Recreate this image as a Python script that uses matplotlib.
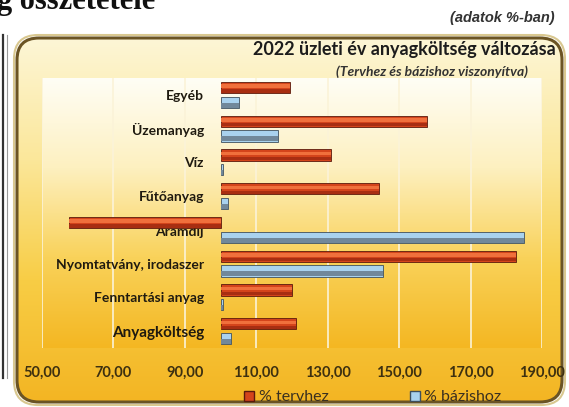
import matplotlib.pyplot as plt
import numpy as np
from matplotlib.patches import FancyBboxPatch
from matplotlib.lines import Line2D
from matplotlib.colors import LinearSegmentedColormap

# data (top to bottom as in the picture)
kategoriak = ["Egyéb", "Üzemanyag", "Víz", "Fűtőanyag", "Áramdíj",
              "Nyomtatvány, irodaszer", "Fenntartási anyag", "Anyagköltség"]
tervhez = [119.5, 157.8, 131.0, 144.4, 57.6, 182.7, 120.0, 121.0]
bazishoz = [105.2, 116.1, 100.6, 102.0, 185.0, 145.5, 100.8, 103.0]
xticks = [50, 70, 90, 110, 130, 150, 170, 190]
alap = 100

W, H = 569, 407
fig = plt.figure(figsize=(W / 100, H / 100), dpi=100)
fig.patch.set_facecolor("white")

# background axes for the rounded frame
bg = fig.add_axes([0, 0, 1, 1])
bg.set_xlim(0, W)
bg.set_ylim(0, H)
bg.axis("off")

frame = FancyBboxPatch((17, 5), 545, 364, boxstyle="round,pad=0,rounding_size=22",
                       fc="none", ec="#6b5424", lw=2.2, zorder=3)
outer = FancyBboxPatch((14, 2), 551, 370, boxstyle="round,pad=0,rounding_size=24",
                       fc="none", ec="#d9c890", lw=1.5, zorder=2)
bg.add_patch(outer)
bg.add_patch(frame)
cm_bg = LinearSegmentedColormap.from_list("bg", ["#f3b523", "#f8cd45", "#fbe79a", "#fdf6d6"])
grad = np.linspace(0, 1, 256).reshape(-1, 1)
im = bg.imshow(grad, extent=[17, 562, 5, 369], origin="lower", cmap=cm_bg,
               aspect="auto", zorder=1)
im.set_clip_path(frame)

# left table edge
bg.add_line(Line2D([3, 3], [29, 372], color="#333333", lw=1.6))
bg.add_line(Line2D([7, 7], [29, 372], color="#9a9a9a", lw=0.8))

# plot axes
ax = fig.add_axes([42 / W, 1 - 348 / H, 500 / W, 270 / H])
ax.set_facecolor("none")
cm_pa = LinearSegmentedColormap.from_list("pa", ["#f4b722", "#f9d25a", "#fdf0c0", "#fffef6"])
ax.imshow(grad, extent=[0, 1, 0, 1], origin="lower", cmap=cm_pa, aspect="auto",
          transform=ax.transAxes, zorder=0)

n = len(kategoriak)
y = np.arange(n)[::-1]
h = 0.33
off = 0.22
red_w = [v - alap for v in tervhez]
blue_w = [v - alap for v in bazishoz]

ax.barh(y + off, red_w, left=alap, height=h, color="#d4441b", ec="#5a1a0c", lw=0.6, zorder=3)
ax.barh(y + off + h * 0.12, red_w, left=alap, height=h * 0.3, color="#f0703c", lw=0, zorder=4)
ax.barh(y + off - h * 0.32, red_w, left=alap, height=h * 0.3, color="#a82e12", lw=0, zorder=4)
ax.barh(y - off, blue_w, left=alap, height=h, color="#a9d2ee", ec="#3e4f5c", lw=0.6, zorder=3)
ax.barh(y - off - h * 0.25, blue_w, left=alap, height=h * 0.45, color="#71889a", lw=0, zorder=4)

ax.set_xlim(50, 190)
ax.set_ylim(-0.5, n - 0.5)
ax.set_xticks(xticks)
ax.set_xticklabels([f"{t:.2f}".replace(".", ",") for t in xticks],
                   fontfamily="Lato", fontweight="bold", fontsize=10.5, color="#3d3010")
ax.tick_params(axis="x", length=0, pad=13)
ax.grid(axis="x", color="#fbf3d8", lw=1.2, zorder=1)
ax.set_axisbelow(True)

ax.spines["left"].set_position(("data", alap))
for s in ax.spines.values():
    s.set_visible(False)
ax.set_yticks(y)
ax.set_yticklabels(kategoriak, fontfamily="Lato", fontweight="bold", fontsize=10, color="#1f1a10")
ax.tick_params(axis="y", length=0, pad=12)
for lab in ax.get_yticklabels():
    if lab.get_text() == "Anyagköltség":
        lab.set_fontsize(11)
    lab.set_zorder(6)

# texts
fig.text(-3 / W, 1 - 9 / H, "g összetétele", fontfamily="Liberation Serif",
         fontweight="bold", fontsize=22, color="#111111", va="baseline", ha="left")
fig.text(555 / W, 1 - 18 / H, "(adatok %-ban)", fontfamily="Liberation Sans", fontstyle="italic",
         fontweight="bold", fontsize=10.5, color="#333333", ha="right", va="center")
fig.text(556 / W, 1 - 49 / H, "2022 üzleti év anyagköltség változása", fontfamily="Lato",
         fontweight="bold", fontsize=13, color="#1c1c1c", ha="right", va="center")
fig.text(528 / W, 1 - 72 / H, "(Tervhez és bázishoz viszonyítva)", fontfamily="Lato",
         fontstyle="italic", fontweight="bold", fontsize=10, color="#333333",
         ha="right", va="center", zorder=10)

handles = [Line2D([], [], ls="none", marker="s", ms=7, mfc="#d4441b", mec="#5a1a0c"),
           Line2D([], [], ls="none", marker="s", ms=7, mfc="#a9d2ee", mec="#3e4f5c")]
fig.legend(handles, ["% tervhez", "% bázishoz"], loc="center", ncol=2,
           bbox_to_anchor=(372 / W, 1 - 397 / H), frameon=False,
           prop={"family": "Lato", "size": 11.5}, labelcolor="#3a3020",
           handletextpad=0.2, columnspacing=5.0, handlelength=0.8)

fig.savefig("out.png", dpi=100)
